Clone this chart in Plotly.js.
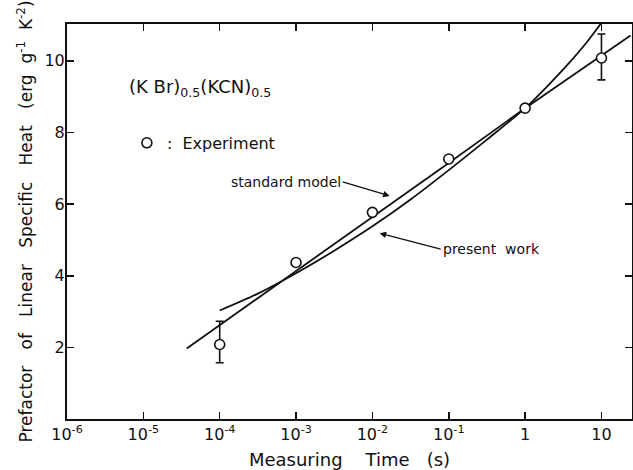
<!DOCTYPE html>
<html>
<head>
<meta charset="utf-8">
<script src="https://cdn.plot.ly/plotly-3.0.1.min.js"></script>
<style>html,body{margin:0;padding:0;background:#fff;}#chart{width:633px;height:470px;}</style>
</head>
<body>
<div id="chart"></div>
<script>
// Experiment (measuring time in s, prefactor)
const expTime = [1e-4, 1e-3, 1e-2, 1e-1, 1, 10];
const expValue = [2.08, 4.37, 5.77, 7.26, 8.68, 10.08];
const expErrPlus = [0.65, null, null, null, null, 0.67];
const expErrMinus = [0.51, null, null, null, null, 0.61];

// Standard model curve
const stdTime = [3.7e-5, 1e-4, 1e-3, 1e-2, 1e-1, 1, 24];
const stdValue = [1.97, 2.62, 4.13, 5.63, 7.15, 8.68, 10.71];

// Present work curve
const presTime = [1e-4, 3.16e-4, 1e-3, 3.16e-3, 1e-2, 3.16e-2, 1e-1, 0.316, 1, 2.14, 3.55, 6.31, 9.73];
const presValue = [3.03, 3.5, 4.07, 4.7, 5.38, 6.13, 6.95, 7.8, 8.68, 9.38, 9.88, 10.5, 11.03];

// Axis ticks
const xTickVals = [1e-6, 1e-5, 1e-4, 1e-3, 1e-2, 1e-1, 1, 10];
const xTickText = ['10<sup>-6</sup>', '10<sup>-5</sup>', '10<sup>-4</sup>', '10<sup>-3</sup>', '10<sup>-2</sup>', '10<sup>-1</sup>', '1', '10'];
const yTickVals = [2, 4, 6, 8, 10];

const FONT = 'DejaVu Sans, Liberation Sans, sans-serif';
const S = '\u00A0';
const sp = n => S.repeat(n);

const traces = [
  {x: stdTime, y: stdValue, mode: 'lines', type: 'scatter', name: 'standard model',
   line: {color: '#111', width: 1.8, shape: 'linear'}, showlegend: false, hoverinfo: 'skip'},
  {x: presTime, y: presValue, mode: 'lines', type: 'scatter', name: 'present work',
   line: {color: '#111', width: 1.8, shape: 'spline', smoothing: 0.8}, showlegend: false, hoverinfo: 'skip'},
  {x: expTime, y: expValue, mode: 'markers', type: 'scatter', name: ':' + sp(2) + 'Experiment',
   marker: {symbol: 'circle', size: 10, color: '#fff', line: {color: '#111', width: 1.6}},
   error_y: {type: 'data', symmetric: false, array: expErrPlus, arrayminus: expErrMinus,
             color: '#111', thickness: 1.6, width: 4},
   showlegend: true}
];

const layout = {
  width: 633, height: 470,
  margin: {l: 67, r: 1, t: 24, b: 51},
  paper_bgcolor: '#fff', plot_bgcolor: '#fff',
  font: {family: FONT, color: '#111', size: 15},
  xaxis: {
    type: 'log', range: [-6, 1.4],
    tickvals: xTickVals, ticktext: xTickText,
    ticks: 'inside', ticklen: 7, tickwidth: 1.5, tickcolor: '#111',
    showline: true, linecolor: '#111', linewidth: 2, mirror: 'ticks',
    showgrid: false, zeroline: false,
    tickfont: {size: 16, family: FONT},
    title: {text: 'Measuring' + sp(4) + 'Time' + sp(3) + '(s)', font: {size: 18, family: FONT}, standoff: 11}
  },
  yaxis: {
    range: [0, 11.03],
    tickvals: yTickVals,
    ticks: 'inside', ticklen: 7, tickwidth: 1.5, tickcolor: '#111',
    ticklabelstandoff: -3,
    showline: true, linecolor: '#111', linewidth: 2, mirror: 'ticks',
    showgrid: false, zeroline: false,
    tickfont: {size: 16, family: FONT},
    title: {text: 'Prefactor' + sp(3) + 'of' + sp(3) + 'Linear' + sp(3) + 'Specific' + sp(3) + 'Heat' + sp(3) + '(erg' + sp(2) + 'g<sup>-1</sup>' + sp(2) + 'K<sup>-2</sup>)',
            font: {size: 17, family: FONT}, standoff: 7}
  },
  showlegend: true,
  legend: {x: 0.106, y: 0.699, xanchor: 'left', yanchor: 'middle', bgcolor: 'rgba(0,0,0,0)',
           font: {size: 16, family: FONT}, itemwidth: 30},
  annotations: [
    {xref: 'paper', yref: 'paper', x: 0.106, y: 0.838, xanchor: 'left', yanchor: 'middle',
     text: '(K' + S + 'Br)<sub>0.5</sub>(KCN)<sub>0.5</sub>', showarrow: false, font: {size: 18, family: FONT}},
    {xref: 'x', yref: 'y', x: -1.774, y: 6.23, ax: -47, ay: -14, xanchor: 'right', yanchor: 'middle',
     text: 'standard model', showarrow: true, font: {size: 14, family: FONT},
     arrowhead: 2, arrowsize: 1, arrowwidth: 1.3, arrowcolor: '#111'},
    {xref: 'x', yref: 'y', x: -1.905, y: 5.19, ax: 61, ay: 16, xanchor: 'left', yanchor: 'middle',
     text: 'present' + sp(2) + 'work', showarrow: true, font: {size: 14, family: FONT},
     arrowhead: 2, arrowsize: 1, arrowwidth: 1.3, arrowcolor: '#111'}
  ]
};

Plotly.newPlot('chart', traces, layout, {staticPlot: true, displayModeBar: false});
</script>
</body>
</html>
